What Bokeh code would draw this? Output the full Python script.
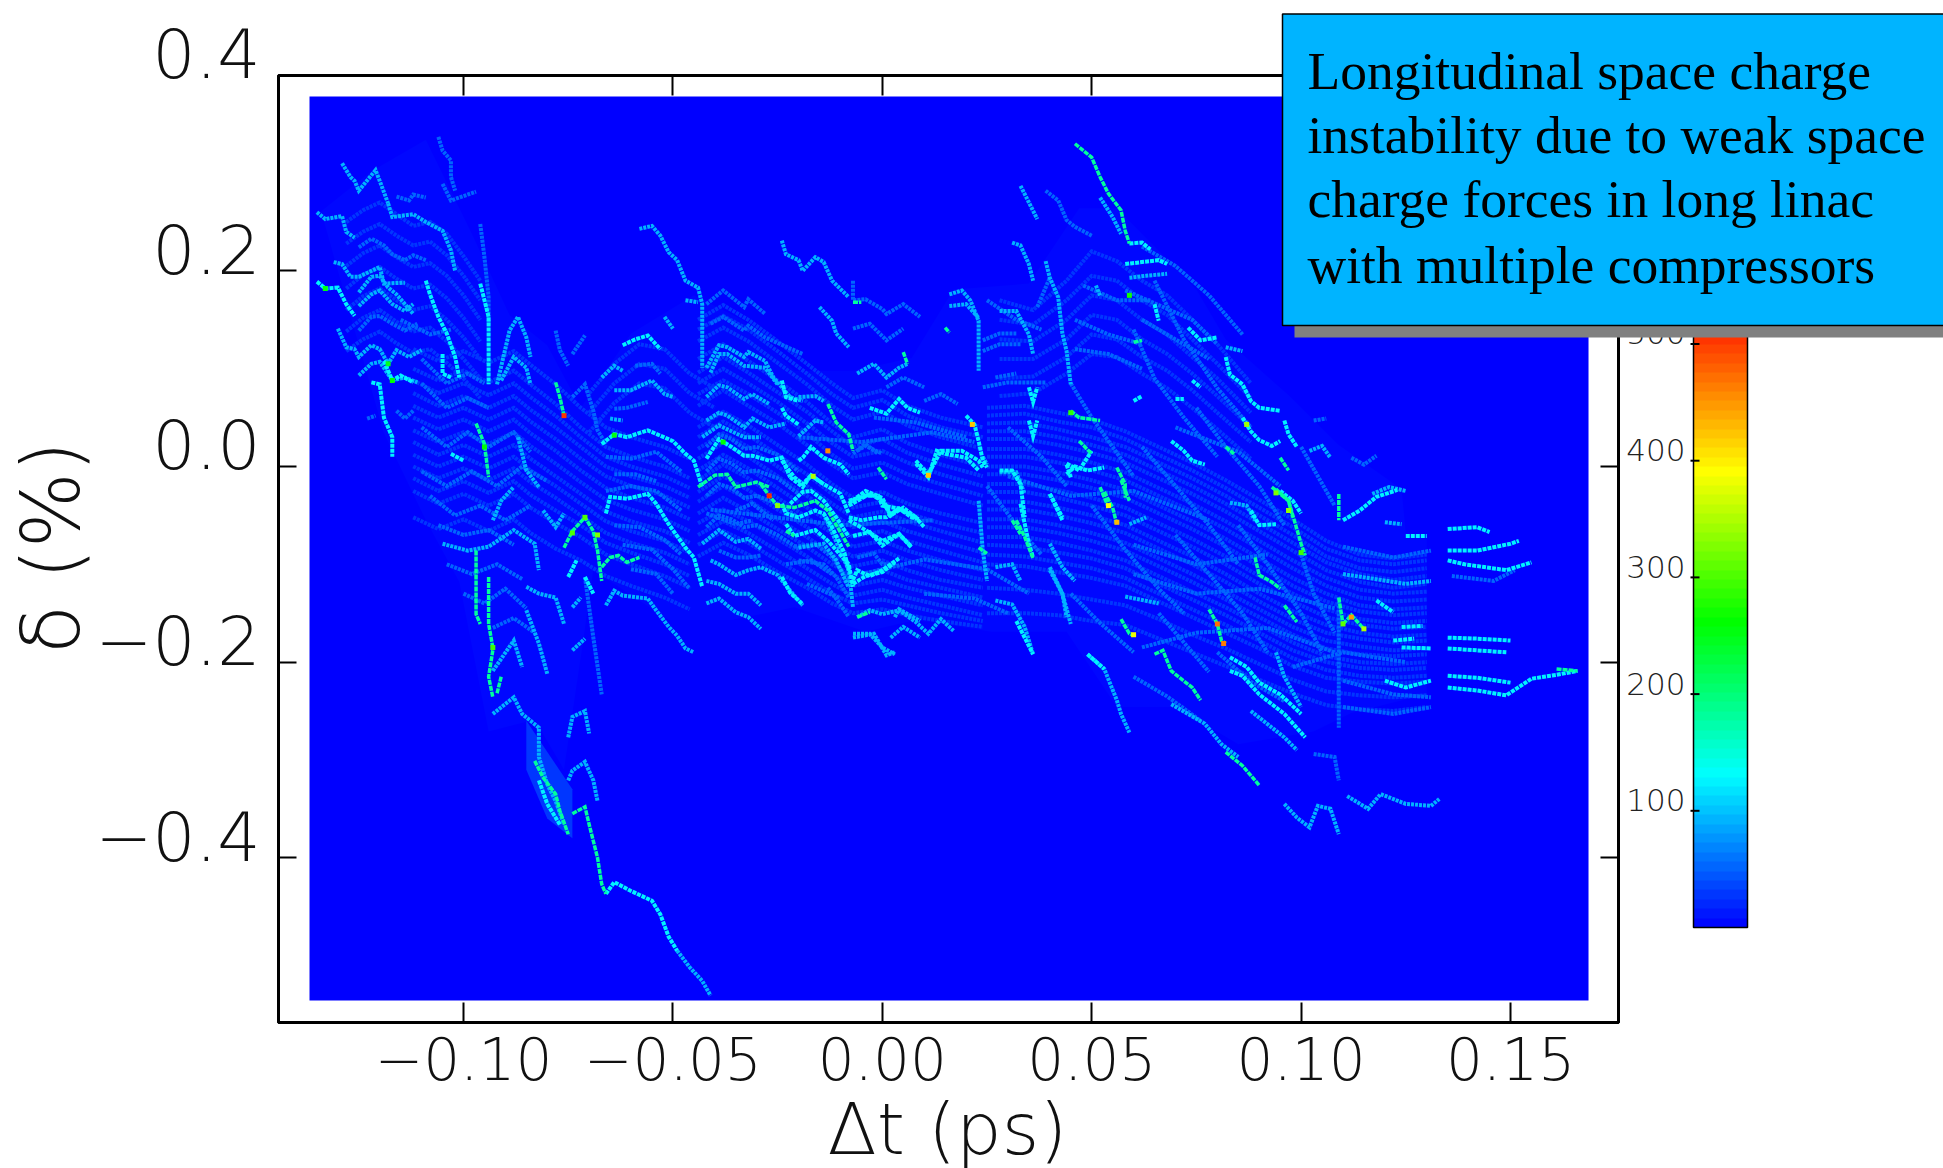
import numpy as np
from bokeh.plotting import figure, ColumnDataSource
from bokeh.core.properties import value
from bokeh.models import (Range1d, LinearAxis, FixedTicker, LinearColorMapper, ColorBar, Column)
from bokeh.embed import file_html
from bokeh.resources import INLINE

# ---- axis contents -------------------------------------------------------
x_ticks = [-0.10, -0.05, 0.00, 0.05, 0.10, 0.15]
x_tick_labels = ["\u22120.10", "\u22120.05", "0.00", "0.05", "0.10", "0.15"]
y_ticks = [-0.4, -0.2, 0.0, 0.2, 0.4]
y_tick_labels = ["\u22120.4", "\u22120.2", "0.0", "0.2", "0.4"]
cbar_ticks = [100, 200, 300, 400, 500]
x_title = "\u0394t (ps)"
y_title = "\u03b4 (%)"
note_lines = ["Longitudinal space charge", "instability due to weak space",
              "charge forces in long linac", "with multiple compressors"]

# colour scale anchors: counts -> rgb
scale_counts = [0, 130, 260, 388, 530]
scale_r = [0, 0, 0, 255, 255]
scale_g = [0, 255, 255, 255, 0]
scale_b = [255, 255, 0, 0, 0]

# extent of the histogram, in ps and %
hist_t = [-0.13677, 0.16863]
hist_d = [-0.546, 0.3783]

# levels of the streak groups (counts per cell)
level_haze, level_ripple, level_dim, level_mid, level_bright, level_green = 7, 28, 52, 92, 128, 180

# ---- streaks: (dt in fs, delta in 0.001 %) -------------------------------
haze_outline = [(-134,261),(-122,302),(-109,334),(-98,238),(-89,155),(-80,124),(-72,60),(-60,136),(-45,175),
    (-33,149),(-21,98),(-7,98),(7,111),(17,181),(35,187),(47,264),(56,264),(65,225),(75,181),(82,130),(97,73),
    (109,22),(124,-23),(125,-68),(130,-70),(130,-233),(112,-252),(103,-271),(85,-284),(70,-246),(56,-246),
    (44,-169),(26,-169),(8,-157),(-4,-169),(-21,-144),(-36,-157),(-51,-157),(-69,-106),(-72,-195),(-76,-310),
    (-83,-259),(-94,-271),(-101,-118),(-109,-55),(-119,34),(-125,124)]
core_tail = [(-85,-260),(-74,-330),(-74,-380),(-80,-360),(-85,-310)]

# stacked faint ripples: knots in fs, then delta (0.001 %) of each ripple at those knots
ripple_left_t = [-112,-106,-100,-94,-88,-84,-78,-72,-66,-60,-52,-46]
ripple_left = [
 [120,108,118,106,118,104,84,60,40,30,20,8],[100,88,98,86,98,84,64,40,20,10,0,-12],
 [75,62,72,60,72,58,40,20,0,-10,-20,-32],[50,38,48,36,48,34,16,-4,-22,-32,-42,-54],
 [25,12,22,10,22,8,-10,-28,-46,-56,-66,-78],[0,-12,-2,-14,-2,-16,-32,-50,-68,-78,-88,-100],
 [-25,-38,-28,-40,-28,-42,-58,-72,-90,-100,-112,-124],[-52,-64,-54,-66,-54,-68,-84,-96,-112,-122,-134,-146],
 [88,75,85,73,85,71,52,30,10,0,-10,-22],[62,50,60,48,60,46,28,8,-10,-20,-30,-42],
 [37,25,35,23,35,21,3,-16,-34,-44,-54,-66],[12,0,10,-2,10,-4,-20,-38,-56,-66,-76,-88],
 [-12,-25,-15,-27,-15,-29,-45,-60,-78,-88,-100,-112]]
ripple_mid_t = [-44,-38,-32,-25,-18,-12,-7,0,6,14,24]
ripple_mid = [
 [150,165,150,128,105,85,70,78,62,50,40],[128,142,128,106,84,62,48,56,42,30,18],
 [110,125,108,88,66,44,30,38,24,12,0],[85,100,85,66,44,24,10,16,4,-8,-20],
 [62,78,62,44,22,2,-12,-6,-18,-28,-40],[40,56,42,22,2,-18,-32,-26,-38,-48,-58],
 [18,34,20,0,-20,-38,-52,-46,-56,-66,-78],[-4,12,-2,-22,-42,-58,-72,-66,-76,-86,-98],
 [-26,-10,-24,-44,-62,-80,-92,-86,-96,-106,-116],[-48,-32,-46,-64,-82,-100,-112,-106,-116,-124,-134],
 [-70,-56,-68,-86,-104,-120,-132,-126,-134,-142,-152],[-92,-78,-90,-108,-124,-140,-150,-146,-152,-158,-164],
 [140,154,140,118,95,74,60,68,52,40,30],[96,112,96,76,56,36,20,28,14,2,-10],[74,88,74,55,34,12,-2,4,-8,-18,-30],
 [30,46,32,12,-8,-28,-42,-36,-48,-58,-68],[8,24,10,-10,-30,-48,-62,-56,-66,-76,-88],
 [-14,2,-12,-32,-52,-68,-82,-76,-86,-96,-106],[-36,-20,-34,-54,-72,-90,-102,-96,-106,-116,-124],
 [-58,-44,-56,-74,-92,-110,-122,-116,-124,-132,-142],[-80,-66,-78,-96,-114,-130,-140,-136,-142,-150,-158]]
ripple_right_t = [25,34,42,50,58,66,74,82,90,98,106,114,122,130]
ripple_right = [
 [60,62,55,48,36,20,4,-14,-34,-54,-76,-90,-94,-90],[44,45,38,30,20,4,-12,-30,-50,-70,-92,-104,-108,-104],
 [28,28,22,14,4,-12,-28,-46,-66,-86,-106,-118,-124,-120],[10,10,4,-4,-14,-30,-46,-64,-84,-104,-122,-134,-138,-136],
 [-8,-8,-14,-22,-32,-48,-64,-82,-102,-122,-138,-148,-152,-150],[-26,-26,-32,-40,-50,-66,-82,-100,-120,-138,-154,-162,-166,-164],
 [-44,-44,-50,-58,-68,-84,-100,-118,-138,-156,-170,-176,-180,-178],[-62,-62,-68,-76,-86,-102,-118,-136,-154,-172,-186,-192,-194,-192],
 [-80,-82,-88,-94,-104,-120,-136,-152,-170,-188,-200,-206,-208,-206],[-100,-102,-108,-114,-122,-138,-154,-170,-186,-204,-216,-220,-222,-220],
 [-124,-126,-130,-136,-142,-156,-172,-186,-202,-218,-230,-234,-236,-234],[-150,-150,-152,-158,-162,-176,-190,-204,-218,-232,-244,-248,-250,-246],
 [52,54,46,40,28,12,-4,-22,-42,-62,-84,-96,-100,-96],[36,36,30,22,12,-4,-20,-38,-58,-78,-98,-110,-116,-112],
 [18,18,12,4,-6,-22,-38,-56,-76,-96,-114,-126,-130,-128],[0,0,-6,-14,-24,-40,-56,-74,-94,-114,-130,-142,-146,-144],
 [-18,-18,-24,-32,-42,-58,-74,-92,-112,-130,-146,-156,-160,-158],[-36,-36,-42,-50,-60,-76,-92,-110,-130,-148,-162,-170,-174,-172],
 [-54,-54,-60,-68,-78,-94,-110,-128,-146,-164,-178,-184,-188,-186],[-72,-72,-78,-86,-96,-112,-128,-144,-162,-180,-194,-200,-202,-200],
 [-90,-92,-98,-104,-114,-130,-146,-162,-178,-196,-208,-214,-216,-214]]
ripple_upleft_t = [-128,-124,-120,-116,-112,-108,-104,-100,-96]
ripple_upleft = [
 [250,262,270,258,246,250,238,215,190],[228,240,248,236,226,230,216,195,170],[205,218,226,214,204,208,195,175,150],
 [182,196,204,192,182,186,172,152,128],[160,174,182,170,160,164,150,132,110],[138,152,160,148,138,142,128,110,90],
 [118,130,138,126,116,120,106,90,70]]
ripple_hump_t = [28,36,44,50,56,62,68,74,80,88]
ripple_hump = [
 [170,160,190,220,210,190,175,150,125,85],[150,145,170,195,190,170,155,130,105,70],[130,128,150,175,170,150,135,112,90,55],
 [110,110,130,155,150,130,115,95,72,40],[90,92,112,135,130,112,98,78,55,25],[72,75,95,115,112,95,80,60,38,8]]
ripple_notch_t = [-70,-64,-58,-52,-46,-40]
ripple_notch = [[75,105,125,120,95,80],[55,85,105,100,75,60],[35,65,85,80,55,40]]

dim_lines = [
 [(-116,276),(-113,272),(-112,278),(-109,275)],
 [(-106,337),(-105,323),(-103,313),(-103,296),(-102,282)],
 [(-105,289),(-103,272),(-101,275),(-97,281)],
 [(-96,248),(-95,214),(-94,173),(-94,146)],
 [(-125,224),(-122,233),(-119,226),(-117,217),(-114,211),(-112,216),(-109,211)],
 [(-125,139),(-122,153),(-120,154),(-117,146),(-114,139),(-111,146)],
 [(-123,49),(-121,52)],[(-116,57),(-114,49),(-112,57)],
 [(-78,139),(-77,119),(-75,103)],[(-74,115),(-71,134)],
 [(-74,71),(-71,84),(-69,57),(-68,37),(-66,23)],
 [(-59,103),(-55,105),(-53,95)],
 [(-42,166),(-38,180),(-33,163),(-32,171),(-28,156)],
 [(-41,146),(-38,153),(-33,139),(-32,144),(-28,132),(-19,115)],
 [(-64,-8),(-59,-8),(-54,-15)],[(-64,59),(-61,60),(-56,66)],
 [(-110,85),(-104,60),(-99,70),(-94,60)],
 [(-110,40),(-104,20),(-99,35),(-94,20),(-88,35),(-84,15)],
 [(-110,-5),(-104,-20),(-98,-5),(-92,-20),(-86,0),(-80,-15)],
 [(-71,-113),(-69,-175),(-67,-233)],
 [(-39,-86),(-35,-93),(-32,-93),(-29,-91)],
 [(-21,-82),(-16,-79),(-12,-93),(-8,-117)],
 [(-23,-100),(-17,-96),(-12,-110)],
 [(-35,-45),(-31,-38),(-26,-55)],[(-42,-48),(-35,-59),(-31,-55)],
 [(-7,190),(-7,170),(-4,171),(0,161),(1,156),(5,166),(9,153)],
 [(-7,141),(-3,146),(1,129),(5,141)],
 [(24,129),(28,136),(32,136)],[(24,118),(28,125),(33,125)],
 [(39,282),(42,272),(44,252),(46,245),(50,236)],
 [(37,163),(39,183),(40,193)],
 [(24,81),(30,86),(39,86)],[(27,91),(32,95)],
 [(10,67),(14,74),(18,64)],[(1,81),(5,91),(10,81)],[(-7,13),(-4,23),(-1,13)],
 [(136,-112),(146,-117),(151,-106)],
 [(110,-219),(122,-233),(131,-236)],[(110,-246),(122,-253),(131,-246)],
 [(110,-82),(122,-93),(131,-86)],[(103,-294),(108,-297),(109,-321)],
 [(109,-134),(109,-267)],[(103,47),(106,49)],[(112,9),(115,2),(118,11)],
 [(-41,-44),(-10,-60),(12,-55)],[(-20,30),(-5,25),(12,35),(22,25)],
 [(-18,-120),(-10,-135)],[(30,-10),(45,-30),(60,-25),(78,-55)],
 [(60,-80),(75,-100),(92,-90)],[(60,-110),(75,-130),(90,-125),(108,-145)],
 [(62,-185),(75,-170),(92,-165),(108,-190)],[(98,-205),(110,-190),(125,-200)],
 [(70,40),(85,15),(95,-20)],[(-2,50),(8,45),(20,30)],
 [(-5,-110),(10,-95),(25,-105),(35,-130)],[(10,-130),(22,-135),(30,-150)],
 [(-42,20),(-39,33),(-36,28),(-33,18),(-30,20),(-25,12),(-20,-5)],
 [(-42,-5),(-39,8),(-36,3),(-33,-6),(-30,-4),(-25,-12),(-20,-28)],
 [(-42,-30),(-39,-18),(-36,-22),(-33,-32),(-30,-30),(-25,-38),(-20,-52)],
 [(-42,-62),(-39,-50),(-36,-54),(-33,-62),(-30,-60),(-25,-70),(-20,-84)],
 [(-110,110),(-104,85),(-99,95),(-95,85)],
 [(-108,-30),(-102,-50),(-96,-40),(-90,-55),(-84,-40)],
 [(-106,-60),(-100,-70),(-94,-65),(-88,-80)],
 [(-104,-100),(-98,-110),(-92,-100),(-86,-115)],
 [(-100,-130),(-95,-140),(-90,-125),(-85,-145)],
 [(-93,-165),(-88,-155),(-83,-170)],[(-115,150),(-108,135),(-103,140)],
 [(-66,10),(-60,8),(-54,15),(-48,-5)],[(-66,-25),(-60,-20),(-54,-25),(-48,-45)],
 [(-64,-60),(-58,-62),(-52,-75),(-48,-90)],[(-62,-80),(-55,-85),(-50,-105),(-46,-125)],
 [(-60,-105),(-54,-110),(-50,-130)],
 [(45,85),(50,50),(55,20),(60,-10)],[(60,140),(65,90),(72,50),(80,10)],[(65,190),(72,130),(80,80),(88,40)],
 [(75,60),(82,20),(90,-20),(96,-60)],[(62,20),(70,-20),(78,-60),(85,-100)],[(50,-40),(58,-85),(66,-125),(72,-150)],
 [(70,-70),(78,-110),(86,-150),(92,-190)],[(85,-60),(92,-100),(100,-150),(105,-190)],[(100,-90),(103,-130),(108,-170)],
 [(45,-130),(52,-160),(60,-190)],[(66,-150),(72,-180),(78,-210)],[(100,20),(104,-10),(108,-40)],
 [(30,40),(38,10),(44,-20)],[(25,-20),(32,-60),(38,-90)],[(80,-190),(88,-220),(96,-240)],[(60,-215),(68,-235),(76,-260)],
 [(62,225),(70,205),(78,175),(86,135)],[(58,180),(66,165),(74,150),(80,125)],[(62,150),(70,130),(78,110)],
 [(48,185),(56,170),(64,170)],[(46,150),(54,135),(62,125)],[(46,120),(54,115),(62,100)],[(25,170),(32,150),(38,140)],
 [(-13,-124),(-10,-141),(-8,-154)],[(-20,-96),(-14,-100),(-11,-113),(-8,-134)],
 [(-6,16),(-4,21),(0,13)],[(-6,-93),(-2,-89),(0,-100),(3,-100)],
]
mid_lines = [
 [(-129,310),(-127,296),(-126,292),(-125,282),(-121,303),(-120,292),(-118,269)],
 [(-118,269),(-117,255),(-112,258),(-109,250),(-105,241),(-103,221),(-102,200)],
 [(-135,260),(-133,253),(-129,256),(-128,240),(-126,234)],
 [(-131,209),(-129,207),(-127,194),(-125,194),(-122,200),(-120,204),(-119,187),(-114,188)],
 [(-125,178),(-122,194),(-120,195),(-118,183),(-116,176),(-114,166),(-112,156)],
 [(-125,164),(-122,176),(-120,180),(-117,166),(-114,159),(-112,166)],
 [(-130,141),(-128,122),(-126,120),(-125,112),(-122,124),(-120,120),(-118,105),(-116,119),(-113,112),(-110,119)],
 [(-125,93),(-122,105),(-120,107),(-117,88),(-114,91),(-111,86)],
 [(-92,84),(-89,139),(-87,153),(-85,132),(-84,112)],
 [(-91,88),(-88,112),(-85,101),(-84,84)],
 [(-67,91),(-64,103),(-62,98)],
 [(-58,243),(-55,246),(-53,236),(-51,219),(-49,211),(-47,190),(-44,183),(-43,166),(-43,146),(-43,101)],
 [(-52,153),(-50,141)],[(-47,170),(-44,168)],
 [(-42,101),(-39,124),(-37,122),(-33,112),(-32,117),(-28,108),(-26,91),(-22,71),(-19,67)],
 [(-41,96),(-39,115),(-37,115),(-33,103),(-28,101),(-25,84)],
 [(-42,71),(-39,83),(-37,81),(-33,69),(-31,74),(-27,64)],
 [(-42,47),(-39,55),(-37,52),(-33,40),(-31,49),(-27,40),(-23,44)],
 [(-43,30),(-39,42),(-33,30),(-29,30)],
 [(-65,49),(-62,47)],[(-64,78),(-60,78),(-55,88),(-52,74),(-50,71)],
 [(-87,30),(-85,-4),(-82,-21)],
 [(-66,-142),(-64,-127),(-62,-132),(-56,-135),(-54,-147),(-51,-164),(-49,-173),(-47,-186),(-45,-190)],
 [(-74,-144),(-72,-134)],[(-74,-188),(-71,-176)],
 [(-75,-277),(-74,-256),(-71,-250),(-70,-273)],
 [(-75,-321),(-74,-311),(-71,-302),(-69,-321),(-68,-342)],
 [(-105,-79),(-99,-86),(-94,-82),(-88,-65),(-83,-79),(-82,-106)],
 [(-93,-55),(-91,-35),(-88,-21)],[(-81,-45),(-78,-62),(-76,-48)],
 [(-85,-123),(-82,-130),(-78,-134),(-76,-161)],[(-85,-147),(-82,-181),(-80,-212)],
 [(-93,-209),(-88,-178),(-86,-205)],
 [(-93,-253),(-88,-236),(-86,-253),(-82,-267),(-82,-297),(-80,-325),(-78,-342),(-76,-366)],
 [(-43,-79),(-39,-65),(-35,-77),(-32,-74),(-29,-84)],
 [(-41,-96),(-39,-100),(-35,-111),(-32,-106),(-29,-103),(-25,-111),(-22,-127),(-19,-142)],
 [(-42,-117),(-39,-120),(-35,-130),(-32,-130),(-29,-142)],
 [(-42,-140),(-39,-135),(-35,-149),(-32,-154),(-29,-166)],
 [(-14,-48),(-8,-106),(-7,-144)],
 [(-7,-175),(-2,-171),(1,-193),(3,-190)],[(3,-154),(4,-146),(9,-158)],[(2,-175),(5,-164),(9,-175)],
 [(-24,231),(-23,217),(-20,211),(-19,200),(-16,214),(-14,209),(-12,190),(-8,173)],
 [(-15,163),(-12,149),(-11,136),(-8,122)],
 [(16,176),(19,180),(21,170),(23,149),(23,122),(23,98)],[(16,164),(20,166),(23,152)],
 [(28,159),(32,159),(35,135),(36,115)],
 [(33,287),(35,270),(37,253)],[(31,229),(33,226),(35,207),(36,190)],
 [(39,210),(40,193),(42,173),(43,136),(44,118),(45,84)],
 [(52,275),(55,255),(57,238)],[(59,193),(63,195),(68,197)],[(82,122),(86,118)],[(51,185),(52,175)],
 [(-6,95),(-2,105),(1,91),(4,101),(6,105)],
 [(-20,31),(-16,47),(-14,45)],[(-20,71),(-16,72),(-14,67)],
 [(59,-59),(63,-52)],[(40,-79),(43,-103),(46,-117)],[(40,-106),(43,-130),(45,-161)],
 [(49,-192),(53,-207),(56,-239),(57,-253),(59,-272)],
 [(83,-37),(87,-40),(89,-55)],[(120,-57),(124,-59)],[(110,-110),(125,-120),(131,-117)],
 [(96,-345),(99,-359),(102,-369),(104,-347),(107,-350),(109,-376)],
 [(111,-337),(116,-350),(119,-335),(125,-345),(131,-347),(133,-340)],
 [(58,-133),(66,-140)],[(117,-28),(121,-21),(125,-25)],[(102,16),(105,21),(107,9)],
 [(-49,-495),(-46,-512),(-43,-526),(-41,-541)],
 [(69,-243),(77,-263),(81,-284),(85,-297)],[(88,-250),(96,-277),(99,-290)],[(94,-190),(96,-215),(100,-246)],
 [(-20,-83),(-14,-79),(-11,-96),(-8,-124)],
 [(-6,-154),(-3,-147),(0,-151),(4,-147),(8,-159),(11,-171),(14,-156),(17,-168)],
 [(-7,-171),(-3,-171),(0,-185),(3,-192)],
 [(23,-35),(24,-86),(25,-117)],[(27,-103),(31,-100),(33,-117)],
 [(27,-137),(31,-141),(34,-164),(36,-192)],[(40,-103),(43,-130),(44,-154)],
 [(24,10),(25,2)],[(28,-6),(32,-6),(34,-28)],
]
bright_lines = [
 [(-135,189),(-133,182),(-130,183),(-128,166),(-126,154)],
 [(-119,108),(-117,88),(-115,93),(-112,86)],
 [(-122,86),(-120,84),(-119,50),(-117,30),(-117,10)],
 [(-109,190),(-108,176),(-106,153),(-104,136),(-102,112),(-101,91)],
 [(-96,187),(-94,153),(-94,84)],
 [(-62,124),(-59,130),(-56,134),(-53,120)],
 [(-42,8),(-39,28),(-36,20),(-33,11),(-31,11),(-27,6),(-24,9),(-22,-11)],
 [(-67,23),(-64,33),(-61,30),(-56,37),(-50,26),(-47,13),(-45,6),(-43,-21)],
 [(-103,13),(-100,6)],[(-105,115),(-105,95),(-103,91)],
 [(-66,-48),(-65,-31),(-61,-33),(-56,-28),(-54,-38),(-51,-59),(-47,-83),(-45,-93),(-43,-123)],
 [(-75,-113),(-73,-96)],[(-71,-113),(-69,-130)],
 [(-82,-321),(-80,-345),(-77,-366)],
 [(-66,-437),(-64,-425),(-60,-434),(-55,-444),(-53,-458),(-51,-481),(-49,-495)],
 [(-23,-59),(-21,-71),(-16,-65),(-13,-76),(-8,-100),(-7,-123)],
 [(-8,-40),(-3,-28),(0,-35),(2,-50),(4,-43),(7,-52),(9,-54)],
 [(-8,-55),(-4,-65),(0,-76),(4,-69),(7,-82)],
 [(-7,-116),(-6,-106),(-3,-112),(0,-106),(4,-94)],
 [(59,228),(62,229),(64,222)],[(58,207),(62,209),(66,211),(68,207)],[(65,166),(66,149)],
 [(73,142),(76,129),(80,132)],
 [(69,26),(72,16),(74,6),(77,2)],[(74,88),(76,81)],[(60,67),(62,72)],[(70,69),(72,69)],
 [(82,112),(83,94),(86,84),(88,67),(90,60),(95,57)],
 [(86,50),(88,36),(90,27),(93,21),(95,26)],
 [(44,-8),(46,0),(49,-4),(53,-1)],
 [(20,52),(22,43),(23,26),(24,6),(25,-1)],
 [(35,47),(36,31),(37,47)],[(35,81),(36,66),(37,81)],
 [(-3,60),(1,54),(4,69),(6,60),(9,55)],
 [(-24,88),(-23,71),(-20,67)],[(-24,60),(-23,52),(-20,43)],
 [(-20,6),(-19,9),(-17,20),(-14,9),(-10,2),(-8,-8)],
 [(-24,6),(-21,-11),(-19,-18),(-17,-9),(-14,-18),(-10,-28),(-8,-48)],
 [(-8,-38),(-4,-25),(0,-32),(2,-50),(5,-42),(8,-52)],
 [(8,6),(11,-8),(14,16),(19,16),(23,6),(24,-1)],
 [(28,-4),(31,-4),(33,-18),(34,-52)],[(40,-28),(43,-52)],[(44,2),(45,-11)],
 [(32,-158),(36,-192)],
 [(49,-192),(53,-207)],[(88,-45),(90,-60),(94,-59)],
 [(83,-195),(87,-205),(90,-221),(95,-233),(100,-253)],
 [(83,-209),(86,-214),(90,-233),(96,-253),(101,-277)],
 [(118,-137),(122,-149)],[(110,-55),(114,-45),(118,-31),(123,-24)],[(125,-71),(130,-71)],
 [(135,-64),(142,-62),(145,-67)],[(135,-86),(142,-86),(150,-79),(152,-76)],
 [(135,-96),(139,-100),(149,-106),(155,-98)],
 [(135,-175),(142,-176),(150,-178)],[(135,-186),(142,-188),(149,-190)],
 [(135,-214),(142,-216),(150,-221)],
 [(135,-226),(142,-229),(149,-234),(155,-217),(161,-213),(166,-209)],
 [(124,-164),(129,-163)],[(122,-178),(127,-176)],[(124,-185),(131,-186)],
 [(120,-219),(125,-226),(131,-219)],[(96,47),(97,33),(99,20)],[(95,-25),(98,-35),(100,-48)],
 [(-24,-38),(-23,-48),(-20,-52),(-16,-45),(-14,-48),(-12,-62),(-9,-89),(-8,-106)],
 [(-24,-113),(-22,-129),(-19,-141)],
 [(-8,-35),(-4,-30),(-1,-30),(0,-40),(4,-43),(8,-52),(10,-62)],
 [(-8,-52),(-5,-55),(-1,-52),(1,-52),(4,-43)],
 [(-7,-71),(-3,-67),(0,-81),(4,-69),(7,-83)],
 [(-7,-120),(-4,-112),(0,-108),(3,-98)],
 [(33,-38),(35,-79),(36,-93)],[(40,-28),(43,-55)],[(44,3),(47,-4),(50,16)],
 [(8,3),(11,-11),(13,16),(15,13),(20,9),(23,-4)],
 [(-22,-38),(-19,-26),(-17,-25),(-14,-35),(-11,-52),(-8,-72)],
 [(-22,-11),(-19,-21),(-17,-9),(-14,-18)],
]
green_lines = [
 [(-78,86),(-77,71),(-76,52)],
 [(-97,44),(-95,23),(-94,-11)],
 [(-44,-21),(-40,-9),(-37,-8),(-35,-21),(-30,-16),(-27,-21)],
 [(-76,-83),(-74,-66),(-71,-52),(-69,-66),(-68,-86),(-67,-117)],
 [(-67,-103),(-65,-93),(-63,-91),(-61,-98),(-58,-93)],
 [(-97,-86),(-97,-151),(-96,-161)],[(-94,-113),(-94,-161),(-93,-185)],
 [(-93,-188),(-94,-215),(-93,-236)],[(-91,-215),(-92,-232)],
 [(-83,-301),(-81,-318),(-78,-335),(-77,-352),(-75,-376)],
 [(-74,-355),(-71,-348),(-70,-366),(-68,-400),(-67,-427),(-66,-437)],
 [(-29,-18),(-27,-30),(-25,-40),(-21,-42),(-16,-35),(-13,-45),(-8,-82)],
 [(-6,-154),(-3,-149)],
 [(-7,168),(-5,168)],[(15,142),(16,137)],
 [(46,330),(50,316),(52,296),(54,279),(57,262),(58,241),(59,228)],
 [(5,117),(6,105)],[(60,127),(62,129)],
 [(95,9),(97,-4)],[(82,20),(84,13)],
 [(45,57),(47,50),(52,47)],[(47,26),(50,13)],
 [(56,-1),(58,-18),(58,-32)],[(52,-21),(54,-42)],
 [(-13,64),(-11,45),(-8,33),(-7,16)],
 [(-1,-1),(1,-13)],[(93,-21),(97,-35),(98,-52)],
 [(32,-55),(34,-72),(36,-94)],[(53,-26),(55,-42),(56,-59)],[(57,-14),(59,-35)],
 [(57,-156),(59,-171),(60,-173)],
 [(65,-192),(67,-188),(69,-209),(71,-216),(74,-226),(76,-239)],
 [(78,-146),(80,-161),(81,-178),(82,-181)],
 [(89,-93),(90,-111),(93,-118),(95,-125)],
 [(94,-23),(97,-35),(100,-79),(101,-91)],[(96,-142),(99,-159)],
 [(109,-28),(109,-55)],[(109,-134),(110,-161)],[(110,-161),(112,-152),(115,-166)],
 [(82,-292),(86,-306),(90,-326)],[(161,-207),(166,-209)],
 [(-23,-66),(-21,-71)],[(23,-83),(25,-89)],[(31,-55),(33,-69)],
]
hot_t = [-76, -27, 80, 81.5, 112, 115, 60, 54, 56, 21.5, 11, -13, -16.5, 87, -25, -68, 94, 97, -118, -117, -133, -74, -93, -95, -71, 45, 110, 100, 59, -64, -38]
hot_d = [52, -30, -161, -181, -154, -166, -172, -40, -57, 43, -9, 16, -10, 43, -40, -70, -27, -45, 105, 88, 182, -68, -185, 20, -52, 55, -161, -88, 175, 32, 25]
hot_v = [500, 510, 470, 460, 440, 350, 380, 390, 430, 420, 420, 450, 350, 340, 330, 320, 320, 330, 240, 260, 250, 300, 290, 260, 300, 280, 310, 290, 270, 250, 260]


def ps(line):
    return [pt[0] / 1000 for pt in line]


def pct(line):
    return [pt[1] / 1000 for pt in line]


# ---- palette ------------------------------------------------------------
band_counts = np.arange(4, 540, 8)
palette = ["#%02x%02x%02x" % (int(r), int(g), int(b)) for r, g, b in zip(
    np.interp(band_counts, scale_counts, scale_r),
    np.interp(band_counts, scale_counts, scale_g),
    np.interp(band_counts, scale_counts, scale_b))]
mapper = LinearColorMapper(palette=palette, low=0, high=540)

# ---- page geometry (page pixels) ----------------------------------------
F_L, F_R, F_T, F_B = 278, 1618, 75, 1022
W, H = 1943, 1168
x_per_ps, x_zero_px = 4188.0, 881.8
y_per_pct, y_zero_px = 978.0, 466.0


def px(x):
    return (x - x_zero_px) / x_per_ps


def py(y):
    return (y_zero_px - y) / y_per_pct


p = figure(width=W, height=H, output_backend="svg", toolbar_location=None,
           x_range=Range1d(px(F_L), px(F_R)), y_range=Range1d(py(F_B), py(F_T)),
           x_axis_type=None, y_axis_type=None, frame_align=False,
           min_border_left=F_L, min_border_right=W - F_R,
           min_border_top=F_T, min_border_bottom=H - F_B)
p.outline_line_color = "black"
p.outline_line_width = 3
p.background_fill_color = "white"

cbar_px_per_count, cbar_zero_px = 1.167, 927.0

p.quad(left=hist_t[0], right=hist_t[1], bottom=hist_d[0], top=hist_d[1], fill_color="#0000ff", line_color=None)

polys = [(haze_outline, level_haze), (core_tail, level_ripple)]
p.patches(xs="xs", ys="ys", line_color=None,
          fill_color={"field": "v", "transform": mapper},
          source=ColumnDataSource({"xs": [ps(q[0]) for q in polys], "ys": [pct(q[0]) for q in polys],
                                   "v": [q[1] for q in polys]}))

ripple_lines = [list(zip(kn, row)) for kn, rows in [(ripple_left_t, ripple_left), (ripple_mid_t, ripple_mid),
                                                    (ripple_right_t, ripple_right), (ripple_upleft_t, ripple_upleft),
                                                    (ripple_hump_t, ripple_hump), (ripple_notch_t, ripple_notch)]
                for row in rows]

for lines, lev, dash, wid in [(ripple_lines, level_ripple, "3 1", 4), (dim_lines, level_dim, "3 1", 4),
                              (mid_lines, level_mid, "3 1", 4), (bright_lines, level_bright, "4 1", 4),
                              (green_lines, level_green, "5 1", 3.5)]:
    p.multi_line(xs="xs", ys="ys", line_width=wid, line_dash=dash, line_join="miter",
                 line_color={"field": "v", "transform": mapper},
                 source=ColumnDataSource({"xs": [ps(l) for l in lines], "ys": [pct(l) for l in lines],
                                          "v": [lev] * len(lines)}))

p.scatter(x=[t / 1000 for t in hot_t], y=[d / 1000 for d in hot_d], marker="square", size=5, line_color=None,
          fill_color=[palette[min(int(v // 8), len(palette) - 1)] for v in hot_v])

# ---- axes ----------------------------------------------------------------
LABEL_FONT = "DejaVu Sans Light"
INK = "#111111"
for side in ["below", "above"]:
    ax = LinearAxis(ticker=FixedTicker(ticks=x_ticks), major_tick_in=20, major_tick_out=0,
                    major_tick_line_width=2, minor_tick_line_color=None, axis_line_color="black", axis_line_width=3)
    if side == "below":
        ax.major_label_overrides = dict(zip(x_ticks, x_tick_labels))
        ax.major_label_text_font = LABEL_FONT
        ax.major_label_text_font_size = "58px"
        ax.major_label_text_color = INK
        ax.major_label_standoff = 14
    else:
        ax.major_label_overrides = {t: "" for t in x_ticks}
    p.add_layout(ax, side)
for side in ["left", "right"]:
    ay = LinearAxis(ticker=FixedTicker(ticks=y_ticks), major_tick_in=18, major_tick_out=0,
                    major_tick_line_width=2, minor_tick_line_color=None, axis_line_color="black", axis_line_width=3,
                    major_label_overrides={t: "" for t in y_ticks})
    p.add_layout(ay, side)

cb = ColorBar(color_mapper=mapper, location=(1693 - F_L, F_B - 927), width=54, height=int(540 * cbar_px_per_count),
              padding=0, margin=0, ticker=FixedTicker(ticks=[]), major_tick_line_color=None,
              minor_tick_line_color=None, bar_line_color="black", bar_line_width=1.5, border_line_color=None,
              background_fill_color=None, major_label_text_font_size="1px")
p.add_layout(cb)

# ---- transparent page-sized layer for texts outside the frame and the call-out ----
o = figure(width=W, height=H, output_backend="svg", toolbar_location=None,
           x_range=Range1d(0, W), y_range=Range1d(H, 0), x_axis_type=None, y_axis_type=None, frame_align=False,
           min_border=0, background_fill_color=None, border_fill_color=None, outline_line_color=None,
           margin=(-H, 0, 0, 0))

# the baseline lands about a third of the font size under the requested position
BASELINE_SHIFT = 0.34


def texts(xs, ys, labels, font, size, color, align, rotated=False):
    lift = BASELINE_SHIFT * size
    o.text(x=[v - lift for v in xs] if rotated else xs, y=ys if rotated else [v - lift for v in ys], text=labels,
           text_font=value(font), text_font_size=f"{size}px", text_color=color,
           text_align=align, text_baseline="alphabetic", angle=np.pi / 2 if rotated else 0.0)


y_tick_px = [y_zero_px - t * y_per_pct + 1 for t in y_ticks]
texts([260] * len(y_ticks), y_tick_px, y_tick_labels, LABEL_FONT, 68, INK, "right")
texts([947], [1153], [x_title], LABEL_FONT, 72, INK, "center")
texts([78], [547], [y_title], LABEL_FONT, 80, INK, "center", rotated=True)

cbar_tick_px = [cbar_zero_px - t * cbar_px_per_count for t in cbar_ticks]
o.segment(x0=[1690] * len(cbar_ticks), x1=[1699] * len(cbar_ticks), y0=cbar_tick_px, y1=cbar_tick_px,
          line_color="black", line_width=2)
texts([1685] * len(cbar_ticks), cbar_tick_px, [str(t) for t in cbar_ticks], LABEL_FONT, 31, "#222222", "right")

o.quad(left=1294, right=W + 5, top=320, bottom=337, fill_color="#808080", line_color=None)
o.quad(left=1282, right=W + 5, top=13.5, bottom=325, fill_color="#00b4ff", line_color="black", line_width=1.5)
texts([1307] * 4, [89, 153, 217, 283], note_lines, "Liberation Serif", 53.5, "black", "left")

page = Column(children=[p, o], spacing=0)
open("out.html", "w").write(file_html(page, INLINE))
